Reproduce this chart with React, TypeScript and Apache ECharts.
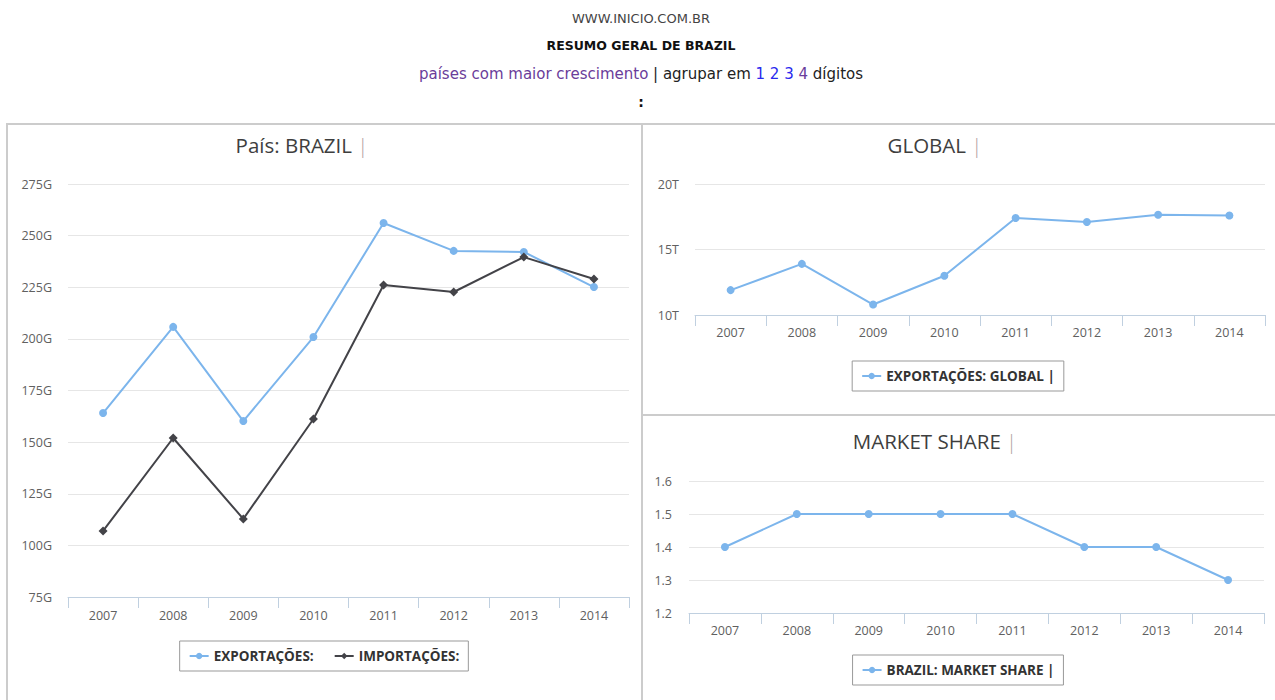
import React, { useEffect, useRef } from "react";
import * as echarts from "echarts";

const years = ["2007", "2008", "2009", "2010", "2011", "2012", "2013", "2014"];
const brazilExports = [164.1, 205.8, 160.2, 200.9, 256.1, 242.6, 242.1, 225.1];
const brazilImports = [107.0, 152.0, 112.8, 161.2, 226.1, 222.7, 239.6, 229.0];
const globalExports = [11.9, 13.9, 10.8, 13.0, 17.4, 17.1, 17.65, 17.6];
const marketShare = [1.4, 1.5, 1.5, 1.5, 1.5, 1.4, 1.4, 1.3];

const BLUE = "#7cb5ec";
const DARK = "#434348";
const FONT = "'Open Sans', 'Noto Sans', sans-serif";
const HFONT = "'DejaVu Sans', Verdana, sans-serif";

function xAxisCfg(margin: number) {
  return {
    type: "category",
    data: years,
    boundaryGap: true,
    axisLine: { show: true, lineStyle: { color: "#c0d0e0", width: 1 } },
    axisTick: { show: true, length: 11, interval: 0, alignWithLabel: false, lineStyle: { color: "#c0d0e0" } },
    axisLabel: { color: "#606060", fontSize: 12.5, fontFamily: FONT, margin, interval: 0 },
    splitLine: { show: false },
  };
}

function yAxisCfg(min: number, max: number, interval: number, fmt: (v: number) => string, margin: number) {
  return {
    type: "value",
    min,
    max,
    interval,
    axisLine: { show: false },
    axisTick: { show: false },
    axisLabel: { color: "#606060", fontSize: 12.5, fontFamily: FONT, margin, formatter: fmt },
    splitLine: { show: true, lineStyle: { color: "#e6e6e6", width: 1 } },
  };
}

function titleGraphic(x: number, y: number, main: string) {
  return {
    type: "text",
    x,
    y,
    style: {
      text: "{m|" + main + " }{b||}",
      textAlign: "center",
      textVerticalAlign: "middle",
      rich: {
        m: { fontSize: 20.5, fontFamily: FONT, fill: "#3e3e3e", color: "#3e3e3e" },
        b: { fontSize: 20.5, fontFamily: FONT, fill: "#b0a0a0", color: "#b0a0a0", fontWeight: 300 },
      },
    },
  };
}

function legendCfg(top: number, names: string[]) {
  return {
    top,
    left: "center",
    data: names,
    orient: "horizontal",
    borderColor: "#999",
    borderWidth: 1,
    borderRadius: 0,
    padding: [8, 9, 8, 9],
    itemGap: 20,
    itemWidth: 19,
    itemHeight: 8,
    textStyle: { fontSize: 13.5, fontWeight: "bold", color: "#333", fontFamily: FONT },
  };
}

function seriesCfg(name: string, data: number[], color: string, symbol: string, size: number) {
  return {
    type: "line",
    name,
    data,
    symbol,
    symbolSize: size,
    showSymbol: true,
    itemStyle: { color },
    lineStyle: { color, width: 2 },
    emphasis: { disabled: true },
  };
}

function useChart(ref: React.RefObject<HTMLDivElement | null>, option: any) {
  useEffect(() => {
    if (!ref.current) return;
    const chart = echarts.init(ref.current, undefined, { renderer: "svg" });
    chart.setOption(option);
    return () => chart.dispose();
  }, []);
}

export default function App() {
  const headRef = useRef<HTMLDivElement>(null);
  const leftRef = useRef<HTMLDivElement>(null);
  const topRef = useRef<HTMLDivElement>(null);
  const botRef = useRef<HTMLDivElement>(null);

  useChart(headRef, {
    animation: false,
    graphic: [
      {
        type: "text",
        x: 641,
        y: 18,
        style: { text: "WWW.INICIO.COM.BR", textAlign: "center", textVerticalAlign: "middle", fontSize: 13, fontFamily: HFONT, fill: "#444" },
      },
      {
        type: "text",
        x: 641,
        y: 45,
        style: { text: "RESUMO GERAL DE BRAZIL", textAlign: "center", textVerticalAlign: "middle", fontSize: 12.5, fontWeight: "bold", fontFamily: HFONT, fill: "#111" },
      },
      {
        type: "text",
        x: 641,
        y: 74,
        style: {
          text: "{p|países com maior crescimento}{d| | agrupar em }{l|1 2 3}{p| 4}{d| dígitos}",
          textAlign: "center",
          textVerticalAlign: "middle",
          rich: {
            p: { fontSize: 15, fontFamily: HFONT, fill: "#6a3d9a", color: "#6a3d9a" },
            d: { fontSize: 15, fontFamily: HFONT, fill: "#222", color: "#222" },
            l: { fontSize: 15, fontFamily: HFONT, fill: "#2a2aee", color: "#2a2aee" },
          },
        },
      },
      {
        type: "text",
        x: 641,
        y: 102,
        style: { text: ":", textAlign: "center", textVerticalAlign: "middle", fontSize: 14, fontWeight: "bold", fontFamily: HFONT, fill: "#111" },
      },
    ],
  });

  useChart(leftRef, {
    animation: false,
    grid: { left: 62, top: 61, width: 561, height: 413 },
    xAxis: xAxisCfg(12),
    yAxis: yAxisCfg(75, 275, 25, (v: number) => v + "G", 16),
    legend: legendCfg(518, ["EXPORTAÇÕES:", "IMPORTAÇÕES:"]),
    graphic: [titleGraphic(296, 22, "País: BRAZIL")],
    series: [
      seriesCfg("EXPORTAÇÕES:", brazilExports, BLUE, "circle", 8),
      seriesCfg("IMPORTAÇÕES:", brazilImports, DARK, "diamond", 9),
    ],
  });

  useChart(topRef, {
    animation: false,
    grid: { left: 54, top: 61, width: 570, height: 131 },
    xAxis: xAxisCfg(11),
    yAxis: yAxisCfg(10, 20, 5, (v: number) => v + "T", 16),
    legend: legendCfg(238, ["EXPORTAÇÕES: GLOBAL |"]),
    graphic: [titleGraphic(294, 22, "GLOBAL")],
    series: [seriesCfg("EXPORTAÇÕES: GLOBAL |", globalExports, BLUE, "circle", 8)],
  });

  useChart(botRef, {
    animation: false,
    grid: { left: 48, top: 67, width: 575, height: 132 },
    xAxis: xAxisCfg(11),
    yAxis: yAxisCfg(1.2, 1.6, 0.1, (v: number) => v.toFixed(1), 17),
    legend: legendCfg(241, ["BRAZIL: MARKET SHARE |"]),
    graphic: [titleGraphic(294, 27, "MARKET SHARE")],
    series: [seriesCfg("BRAZIL: MARKET SHARE |", marketShare, BLUE, "circle", 8)],
  });

  const abs = (l: number, t: number, w: number, h: number): React.CSSProperties => ({
    position: "absolute",
    left: l,
    top: t,
    width: w,
    height: h,
  });
  const border = (l: number, t: number, w: number, h: number): React.CSSProperties => ({
    ...abs(l, t, w, h),
    border: "2px solid #cccccc",
    boxSizing: "border-box",
    pointerEvents: "none",
  });

  return (
    <div style={{ position: "fixed", left: 0, top: 0, width: 1275, height: 700, overflow: "hidden", background: "#fff" }}>
      <div ref={headRef} style={abs(0, 0, 1275, 123)} />
      <div ref={leftRef} style={abs(6, 123, 636, 590)} />
      <div ref={topRef} style={abs(641, 123, 634, 292)} />
      <div ref={botRef} style={abs(641, 414, 634, 300)} />
      <div style={border(6, 123, 637, 600)} />
      <div style={border(641, 123, 636, 293)} />
      <div style={border(641, 414, 636, 300)} />
    </div>
  );
}
